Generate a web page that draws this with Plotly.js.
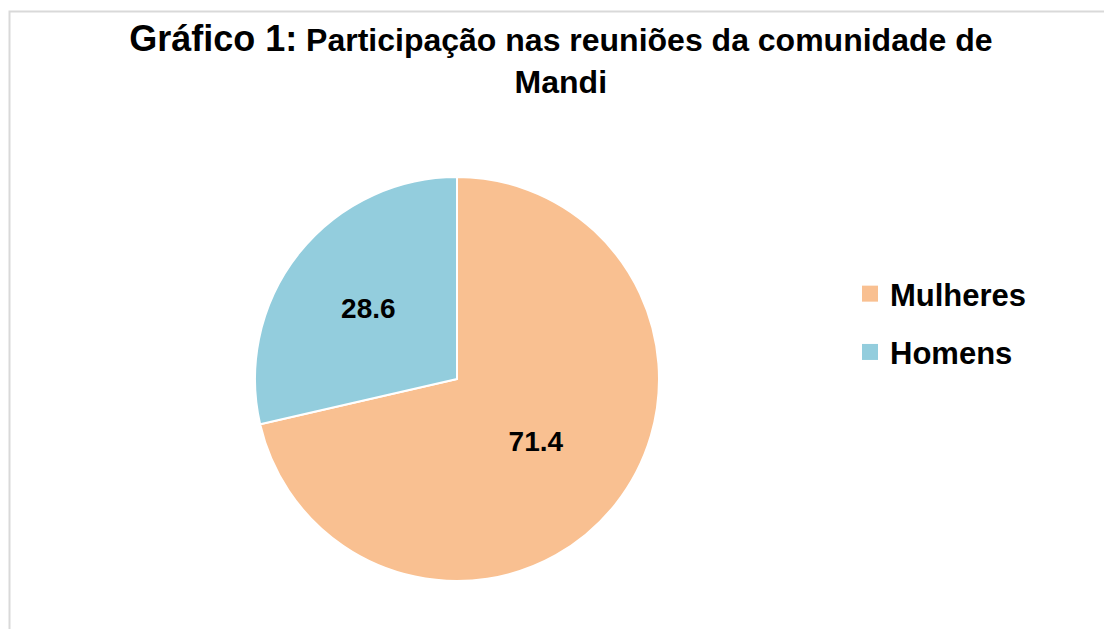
<!DOCTYPE html>
<html>
<head>
<meta charset="utf-8">
<script src="https://cdn.plot.ly/plotly-3.0.1.min.js"></script>
<style>html,body{margin:0;padding:0;background:#fff;}#chart{width:1104px;height:629px;}</style>
</head>
<body>
<div id="chart"></div>
<script>
const categories = ["Mulheres", "Homens"];
const values = [71.4, 28.6];
const colors = ["#F9C091", "#93CDDD"];

const FONT = "Liberation Sans, Arial, sans-serif";

const pieTrace = {
  type: "pie",
  labels: categories,
  values: values,
  sort: false,
  direction: "clockwise",
  rotation: 0,
  marker: {colors: colors, line: {color: "#ffffff", width: 2}},
  textinfo: "value",
  texttemplate: "%{value:.1f}",
  textposition: "inside",
  insidetextorientation: "horizontal",
  textfont: {family: FONT, size: 28, color: "#000000", weight: "bold"},
  hoverinfo: "label+value",
  showlegend: false,
  domain: {x: [254/1104, 660/1104], y: [48/629, 452/629]}
};

// legend entries (square swatches) built from the same categories/colours
const legendTraces = categories.map((c, i) => ({
  type: "scatter",
  mode: "markers",
  x: [null], y: [null],
  name: c,
  legendgroup: "g" + i,
  marker: {symbol: "square", size: 20, color: colors[i]},
  showlegend: true,
  hoverinfo: "skip"
}));

const layout = {
  width: 1104,
  height: 629,
  margin: {l: 0, r: 0, t: 0, b: 0},
  paper_bgcolor: "#ffffff",
  plot_bgcolor: "rgba(0,0,0,0)",
  font: {family: FONT, color: "#000000"},
  xaxis: {visible: false, domain: [0.99, 1]},
  yaxis: {visible: false, domain: [0.99, 1]},
  title: {
    text: "<b><span style='font-size:36px'>Gráfico 1:</span> Participação nas reuniões da comunidade de<br>Mandi</b>",
    font: {family: FONT, size: 32, color: "#000000"},
    x: 0.508, xanchor: "center",
    y: 1 - 51/629, yanchor: "top",
    yref: "paper"
  },
  showlegend: true,
  legend: {
    x: 850/1104, xanchor: "left",
    y: 1 - 267/629, yanchor: "top",
    font: {family: FONT, size: 31, color: "#000000", weight: "bold"},
    traceorder: "grouped",
    tracegroupgap: 15,
    bgcolor: "rgba(0,0,0,0)"
  },
  shapes: [{
    type: "rect", xref: "paper", yref: "paper",
    x0: 9.5/1104, x1: 1.01, y0: -0.01, y1: 1 - 11.5/629,
    line: {color: "#d9d9d9", width: 2}, fillcolor: "rgba(0,0,0,0)", layer: "below"
  }]
};

Plotly.newPlot("chart", [pieTrace, ...legendTraces], layout, {displayModeBar: false, staticPlot: true});
</script>
</body>
</html>
